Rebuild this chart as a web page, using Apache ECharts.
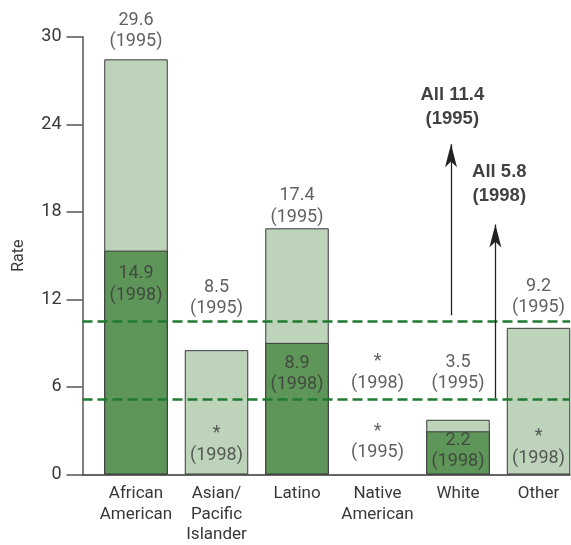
<!DOCTYPE html>
<html>
<head>
<meta charset="utf-8">
<script src="https://cdn.jsdelivr.net/npm/echarts@6/dist/echarts.min.js"></script>
<style>
html,body{margin:0;padding:0;background:#fff;}
#chart{width:571px;height:545px;}
</style>
</head>
<body>
<div id="chart"></div>
<script>
// ---------- data ----------
const categories = ['African\nAmerican', 'Asian/\nPacific\nIslander', 'Latino', 'Native\nAmerican', 'White', 'Other'];
const rate1995 = [28.45, 8.52, 16.87, null, 3.75, 10.05];
const rate1998 = [15.34, null, 9.02, null, 2.96, null];
const text1995 = ['29.6', '8.5', '17.4', '*', '3.5', '9.2'];
const text1998 = ['14.9', '*', '8.9', '*', '2.2', '*'];
const allRate1995 = 10.52;
const allRate1998 = 5.18;
const allText1995 = 'All 11.4';
const allText1998 = 'All 5.8';
const yTicks = [0, 6, 12, 18, 24, 30];

// ---------- layout (annotation placement, in axis units) ----------
const pos1995 = [30.40, 12.10, 18.35, 2.23, 6.95, 12.17];
const pos1998 = [13.02, 2.07, 6.88, 6.98, 1.60, 1.85];
const arrows = [
  {x: 3.913, from: 10.91, to: 22.63},
  {x: 4.464, from: 5.24, to: 17.13}
];
const allLabelPos = [[3.929, 25.17], [4.513, 19.89]];

const LIGHT = '#bdd4bb';
const DARK = '#5e9558';
const EDGE = '#3a3a3a';
const GREEN = '#217a31';
const TXT = '#383838';
const FONT = 'Roboto';
const W = 'normal';

const noteData = [];
categories.forEach((c, i) => {
  noteData.push({value: [i, pos1995[i]], name: text1995[i] + '\n(1995)'});
  noteData.push({value: [i, pos1998[i]], name: text1998[i] + '\n(1998)'});
});
const allData = [
  {value: allLabelPos[0], name: allText1995 + '\n(1995)'},
  {value: allLabelPos[1], name: allText1998 + '\n(1998)'}
];

const chart = echarts.init(document.getElementById('chart'), null, {renderer: 'canvas'});
chart.setOption({
  animation: false,
  backgroundColor: '#fff',
  grid: {left: 82.5, right: 1, top: 36.7, bottom: 68.3, containLabel: false},
  xAxis: {
    type: 'value',
    min: -0.6646,
    max: 5.391,
    splitLine: {show: false},
    axisLine: {show: true, onZero: false, lineStyle: {color: '#333', width: 1.5}},
    axisTick: {show: false},
    axisLabel: {
      show: true,
      customValues: categories.map((c, i) => i),
      formatter: v => categories[Math.round(v)],
      color: TXT, fontFamily: FONT, fontWeight: W, fontSize: 17, lineHeight: 20.5,
      margin: 9, verticalAlign: 'top'
    }
  },
  yAxis: {
    type: 'value',
    min: 0, max: 30, interval: 6,
    name: 'Rate',
    nameLocation: 'middle',
    nameGap: 56,
    nameRotate: 90,
    nameTextStyle: {color: TXT, fontFamily: FONT, fontWeight: W, fontSize: 16},
    splitLine: {show: false},
    axisLine: {show: true, onZero: false, lineStyle: {color: '#555', width: 1.5}},
    axisTick: {show: true, length: 16, lineStyle: {color: '#555', width: 1.5}},
    axisLabel: {
      color: TXT, fontFamily: FONT, fontWeight: W, fontSize: 18, margin: 21,
      formatter: v => String(yTicks[yTicks.indexOf(v)])
    }
  },
  series: [
    {
      name: '1995', type: 'bar',
      data: rate1995.map((v, i) => [i, v]),
      barWidth: 63.5, barGap: '-100%',
      itemStyle: {color: LIGHT, borderColor: EDGE, borderWidth: 1},
      z: 2
    },
    {
      name: '1998', type: 'bar',
      data: rate1998.map((v, i) => [i, v]),
      barWidth: 63.5, barGap: '-100%',
      itemStyle: {color: DARK, borderColor: EDGE, borderWidth: 1},
      z: 3
    },
    {
      name: 'all', type: 'line', data: [], z: 5,
      markLine: {
        silent: true, symbol: ['none', 'none'],
        label: {show: false},
        lineStyle: {color: GREEN, type: [10, 5], width: 2.5},
        data: [{yAxis: allRate1995}, {yAxis: allRate1998}]
      }
    },
    {
      name: 'arrows', type: 'line', data: [], z: 4,
      markLine: {
        silent: true, symbol: ['none', 'arrow'], symbolSize: [9, 23],
        label: {show: false},
        lineStyle: {color: '#222', type: 'solid', width: 1.3},
        data: arrows.map(a => [{coord: [a.x, a.from]}, {coord: [a.x, a.to]}])
      }
    },
    {
      name: 'notes', type: 'scatter', symbolSize: 0, z: 6, clip: false,
      data: noteData,
      label: {
        show: true, position: 'inside', formatter: p => p.name,
        color: TXT, fontFamily: FONT, fontWeight: W, fontSize: 18, lineHeight: 21.5, align: 'center'
      }
    },
    {
      name: 'allNotes', type: 'scatter', symbolSize: 0, z: 6, clip: false,
      data: allData,
      label: {
        show: true, position: 'inside', formatter: p => p.name,
        color: '#111', fontFamily: 'Liberation Sans', fontWeight: 'bold', fontSize: 18.5, lineHeight: 24, align: 'center'
      }
    }
  ]
});
</script>
</body>
</html>
